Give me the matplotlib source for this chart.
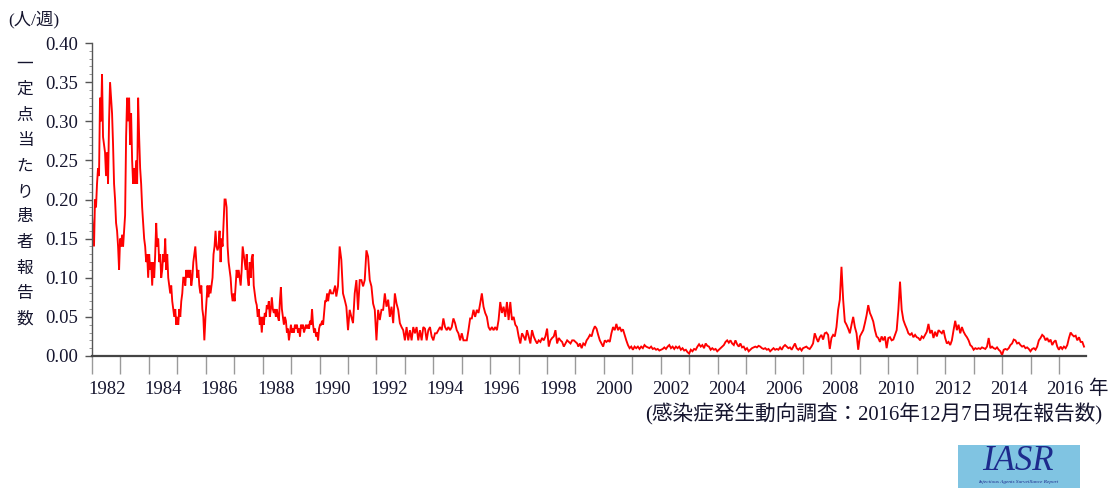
import numpy as np
import matplotlib
matplotlib.use('Agg')
import matplotlib.pyplot as plt
from matplotlib.patches import Rectangle

# ---------------- data (weekly rate per sentinel site) ----------------
# each segment: values evenly spaced between its start and end year
seg1_years = (1982.00, 1985.95)
seg1_vals = [0.18, 0.16, 0.14, 0.20, 0.19, 0.22, 0.24, 0.23, 0.33, 0.30,
             0.36, 0.28, 0.27, 0.26, 0.23, 0.26, 0.22, 0.30, 0.35, 0.33,
             0.31, 0.27, 0.22, 0.20, 0.17, 0.16, 0.14, 0.11,
             0.15, 0.14, 0.155, 0.14, 0.16, 0.18, 0.28, 0.33, 0.30, 0.33,
             0.27, 0.31, 0.25, 0.22, 0.24, 0.22, 0.25, 0.22, 0.33, 0.28,
             0.24, 0.22, 0.19, 0.17, 0.15, 0.14, 0.12, 0.13, 0.10, 0.13,
             0.11, 0.12, 0.09, 0.12, 0.10, 0.13, 0.17, 0.14, 0.15, 0.12,
             0.13, 0.10, 0.11, 0.13, 0.12, 0.15, 0.11, 0.13, 0.10, 0.09,
             0.08, 0.09, 0.07, 0.06, 0.05, 0.06, 0.04, 0.05, 0.04, 0.06,
             0.05, 0.07, 0.08, 0.10, 0.10, 0.09, 0.11, 0.10, 0.11, 0.10,
             0.11, 0.09, 0.10, 0.12, 0.13, 0.14, 0.12, 0.10, 0.11, 0.09,
             0.08, 0.09, 0.06, 0.05, 0.02]

seg2_years = (1985.99, 1990.55)
seg2_vals = [0.05, 0.07, 0.09, 0.075, 0.09, 0.08, 0.09, 0.10, 0.13, 0.14,
             0.16, 0.14, 0.135, 0.14, 0.16, 0.12, 0.15, 0.14, 0.17, 0.20,
             0.20, 0.19, 0.14, 0.12, 0.11, 0.10, 0.08, 0.07, 0.08, 0.07,
             0.09, 0.11, 0.10, 0.11, 0.10, 0.09, 0.11, 0.14, 0.13, 0.12,
             0.11, 0.13, 0.10, 0.09, 0.12, 0.10, 0.125, 0.13, 0.09, 0.08,
             0.07, 0.065, 0.05, 0.06, 0.04, 0.05, 0.03, 0.05, 0.04, 0.055,
             0.05, 0.065, 0.06, 0.07, 0.05, 0.06, 0.075, 0.06, 0.055, 0.06,
             0.05, 0.06, 0.05, 0.045, 0.07, 0.088, 0.06, 0.05, 0.04, 0.05,
             0.045, 0.03, 0.035, 0.02, 0.03, 0.04, 0.03, 0.035, 0.03, 0.04,
             0.035, 0.04, 0.03, 0.035, 0.025, 0.04, 0.035, 0.04, 0.03, 0.035,
             0.04, 0.035, 0.04, 0.035, 0.045, 0.04, 0.06, 0.04, 0.03, 0.035,
             0.025, 0.03, 0.02, 0.035, 0.04, 0.04, 0.045, 0.04, 0.055, 0.07,
             0.07, 0.08, 0.07, 0.08, 0.085, 0.08, 0.08, 0.08, 0.085, 0.09]

seg3_years = (1990.59, 1999.06)
seg3_vals = [0.076, 0.089, 0.140, 0.123, 0.080, 0.072, 0.063, 0.033, 0.059, 0.050,
             0.042, 0.080, 0.097, 0.059, 0.097, 0.097, 0.089, 0.097, 0.135, 0.127,
             0.097, 0.089, 0.067, 0.059, 0.020, 0.059, 0.046, 0.059, 0.059, 0.080,
             0.063, 0.072, 0.050, 0.063, 0.042, 0.080, 0.067, 0.059, 0.042, 0.037,
             0.033, 0.020, 0.037, 0.020, 0.033, 0.020, 0.037, 0.029, 0.037, 0.020,
             0.033, 0.020, 0.037, 0.035, 0.020, 0.033, 0.037, 0.025, 0.020, 0.029,
             0.029, 0.033, 0.037, 0.033, 0.048, 0.037, 0.033, 0.037, 0.033, 0.037,
             0.048, 0.042, 0.033, 0.029, 0.020, 0.029, 0.020, 0.020, 0.020, 0.033,
             0.048, 0.048, 0.059, 0.050, 0.059, 0.055, 0.067, 0.080, 0.063, 0.055,
             0.050, 0.037, 0.033, 0.037, 0.033, 0.037, 0.033, 0.046, 0.069, 0.055,
             0.063, 0.050, 0.069, 0.046, 0.069, 0.046, 0.050, 0.040, 0.037, 0.025,
             0.016, 0.029, 0.025, 0.020, 0.033, 0.025, 0.016, 0.033, 0.025, 0.020,
             0.016, 0.020, 0.018, 0.023, 0.020, 0.025, 0.035, 0.012, 0.020, 0.023,
             0.025, 0.033, 0.016, 0.023, 0.020, 0.018, 0.012, 0.016, 0.020, 0.018,
             0.016, 0.020, 0.020, 0.018, 0.016]

seg4_years = (1999.10, 2006.95)
seg4_vals = [0.012, 0.016, 0.010, 0.016, 0.014, 0.020, 0.023, 0.027, 0.025, 0.033,
             0.038, 0.035, 0.027, 0.020, 0.016, 0.012, 0.020, 0.018, 0.020, 0.018,
             0.029, 0.037, 0.033, 0.041, 0.033, 0.037, 0.032, 0.034, 0.027, 0.020,
             0.014, 0.010, 0.012, 0.008, 0.012, 0.010, 0.012, 0.009, 0.012, 0.010,
             0.014, 0.012, 0.011, 0.010, 0.012, 0.009, 0.010, 0.008, 0.009, 0.007,
             0.008, 0.009, 0.011, 0.009, 0.012, 0.014, 0.010, 0.012, 0.009, 0.012,
             0.010, 0.012, 0.008, 0.010, 0.007, 0.008, 0.005, 0.003, 0.008, 0.006,
             0.009, 0.008, 0.012, 0.015, 0.012, 0.014, 0.010, 0.016, 0.013, 0.012,
             0.008, 0.010, 0.008, 0.009, 0.006, 0.008, 0.010, 0.012, 0.014, 0.018,
             0.020, 0.017, 0.020, 0.016, 0.014, 0.020, 0.015, 0.012, 0.016, 0.011,
             0.012, 0.008, 0.010, 0.006, 0.008, 0.010, 0.011, 0.012, 0.011, 0.013,
             0.012, 0.010, 0.009, 0.010, 0.008, 0.009, 0.006, 0.008, 0.010, 0.008,
             0.009, 0.008, 0.011, 0.008, 0.012, 0.014, 0.012, 0.010, 0.011, 0.008,
             0.012, 0.016, 0.010, 0.008, 0.010, 0.007]

seg5_years = (2007.00, 2016.88)
seg5_vals = [0.010, 0.011, 0.012, 0.010, 0.009, 0.012, 0.016, 0.029, 0.023, 0.018,
             0.024, 0.027, 0.021, 0.029, 0.030, 0.027, 0.009, 0.023, 0.027, 0.025,
             0.037, 0.059, 0.072, 0.114, 0.072, 0.044, 0.040, 0.035, 0.029, 0.040,
             0.050, 0.037, 0.029, 0.008, 0.025, 0.029, 0.033, 0.042, 0.052, 0.065,
             0.055, 0.050, 0.044, 0.033, 0.025, 0.023, 0.018, 0.025, 0.020, 0.025,
             0.010, 0.023, 0.024, 0.020, 0.021, 0.027, 0.033, 0.059, 0.095, 0.059,
             0.046, 0.040, 0.035, 0.029, 0.027, 0.029, 0.024, 0.027, 0.024, 0.023,
             0.020, 0.025, 0.023, 0.027, 0.031, 0.041, 0.029, 0.033, 0.023, 0.031,
             0.025, 0.033, 0.031, 0.029, 0.033, 0.023, 0.016, 0.018, 0.014, 0.020,
             0.033, 0.045, 0.033, 0.040, 0.029, 0.037, 0.031, 0.027, 0.024, 0.020,
             0.014, 0.012, 0.008, 0.010, 0.009, 0.010, 0.009, 0.011, 0.010, 0.009,
             0.012, 0.023, 0.010, 0.012, 0.010, 0.009, 0.011, 0.008, 0.006, 0.001,
             0.008, 0.009, 0.008, 0.010, 0.014, 0.016, 0.021, 0.020, 0.016, 0.017,
             0.014, 0.012, 0.013, 0.010, 0.011, 0.009, 0.006, 0.009, 0.010, 0.008,
             0.012, 0.020, 0.023, 0.027, 0.025, 0.020, 0.023, 0.018, 0.021, 0.014,
             0.018, 0.020, 0.012, 0.008, 0.012, 0.009, 0.012, 0.010, 0.014, 0.023,
             0.030, 0.027, 0.025, 0.026, 0.020, 0.024, 0.018, 0.018, 0.012]

label_years = list(range(1982, 2017, 2))
ylabel_text = "一定点当たり患者報告数"
unit_text = "(人/週)"
year_unit = "年"
source_text = "(感染症発生動向調査：2016年12月7日現在報告数)"

# ---------------- figure ----------------
plt.rcParams['font.family'] = ['Liberation Serif', 'Noto Sans CJK JP', 'DejaVu Sans']
TXT = '#15152e'
W, H = 1116, 488
X0, X1 = 92, 1086          # axes left / right in pixels
XMAX = 2016.95

fig = plt.figure(figsize=(W / 100, H / 100), dpi=100)
ax = fig.add_axes([X0 / W, (H - 356) / H, (X1 - X0) / W, (356 - 43) / H])

segments = [(seg1_years, seg1_vals), (seg2_years, seg2_vals), (seg3_years, seg3_vals),
            (seg4_years, seg4_vals), (seg5_years, seg5_vals)]
xs = np.concatenate([np.linspace(a, b, len(v)) for (a, b), v in segments])
ys = np.concatenate([np.asarray(v, dtype=float) for _, v in segments])
ax.plot(xs, ys, color='#ff0000', lw=1.35, solid_joinstyle='miter')

ax.set_xlim(1982, XMAX)
ax.set_ylim(0, 0.40)

for s in ('top', 'right'):
    ax.spines[s].set_visible(False)
ax.spines['left'].set_color('#555555')
ax.spines['left'].set_linewidth(1.0)
ax.spines['bottom'].set_color('#444444')
ax.spines['bottom'].set_linewidth(1.6)

# x ticks: one per year; labels sit a little right of their year tick
ax.set_xticks(np.arange(1982, 2017))
ax.set_xticklabels([])
ax.tick_params(axis='x', which='major', direction='out', length=13, width=1.0, color='#9a9a9a')
label_pos = [y + 0.52 - 0.30 * (y - 1982) / 34 for y in label_years]
ax.set_xticks(label_pos, minor=True)
ax.set_xticklabels([str(y) for y in label_years], minor=True)
ax.tick_params(axis='x', which='minor', length=0, pad=18, labelsize=13.5, labelcolor=TXT)

# y ticks
ax.set_yticks(np.arange(0, 0.401, 0.05))
ax.set_yticklabels([f"{v:.2f}" for v in np.arange(0, 0.401, 0.05)])
ax.set_yticks(np.arange(0, 0.401, 0.01), minor=True)
ax.tick_params(axis='y', which='major', direction='out', length=5, width=1.0, color='#555555',
               labelsize=13.5, labelcolor=TXT, pad=5)
ax.tick_params(axis='y', which='minor', direction='out', length=2.5, width=0.6, color='#888888')

cjk = ['Noto Sans CJK JP', 'DejaVu Sans']
# vertical y label, one character per line
for i, ch in enumerate(ylabel_text):
    ypix = 64 + i * 25.5
    fig.text(25 / W, 1 - ypix / H, ch, ha='center', va='center', fontsize=12,
             color=TXT, family=cjk)

fig.text(8 / W, 1 - 19 / H, unit_text, ha='left', va='center', fontsize=12.5, color=TXT,
         family=['Liberation Serif', 'Noto Sans CJK JP'])
fig.text(1088 / W, 1 - 388 / H, year_unit, ha='left', va='center', fontsize=14, color=TXT,
         family=cjk)
fig.text(1102 / W, 1 - 414 / H, source_text, ha='right', va='center', fontsize=14.9, color=TXT,
         family=['Liberation Serif', 'Noto Sans CJK JP'])

# IASR logo
fig.patches.append(Rectangle((958 / W, 0), (1080 - 958) / W, (488 - 445) / H,
                             transform=fig.transFigure, facecolor='#80c4e2', edgecolor='none'))
fig.text(1018 / W, 1 - 462 / H, "IASR", ha='center', va='center', fontsize=25,
         style='italic', family='Liberation Serif', color='#1d2a8c')
fig.text(1018 / W, 1 - 482 / H, "Infectious Agents Surveillance Report", ha='center',
         va='center', fontsize=3.8, style='italic', family='Liberation Serif', color='#1d2a8c')

fig.savefig('out.png', dpi=100)
